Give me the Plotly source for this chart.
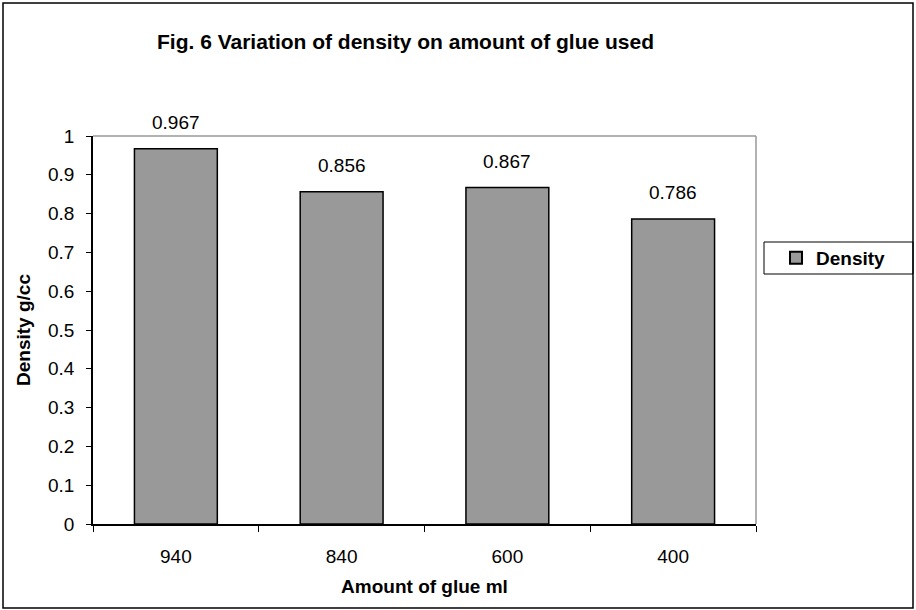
import plotly.graph_objects as go

categories = ["940", "840", "600", "400"]
density = [0.967, 0.856, 0.867, 0.786]
y_ticks = [0, 0.1, 0.2, 0.3, 0.4, 0.5, 0.6, 0.7, 0.8, 0.9, 1]
y_ticklabels = ["0", "0.1", "0.2", "0.3", "0.4", "0.5", "0.6", "0.7", "0.8", "0.9", "1"]
series_name = "Density"
title_text = "Fig. 6 Variation of density on amount of glue used"
x_title = "Amount of glue ml"
y_title = "Density g/cc"

W, H = 916, 610
L, R, T, B = 93, 756, 136, 524
pw, ph = R - L, B - T

def px(x):
    return (x - L) / pw

def py(y):
    return (B - y) / ph

FONT = "Liberation Sans, Arial, sans-serif"

fig = go.Figure()
fig.add_trace(go.Bar(
    x=categories, y=density, name=series_name,
    marker=dict(color="#999999", line=dict(color="black", width=1.5)),
    showlegend=True,
))

annotations = []
# on a category axis, annotation x is the category's serial index
for i, v in enumerate(density):
    annotations.append(dict(x=i, y=v, xref="x", yref="y", text=f"{v:.3f}",
                            showarrow=False, yanchor="bottom", yshift=14,
                            font=dict(family=FONT, size=19, color="black")))

annotations.append(dict(x=px(155), y=py(41), xref="paper", yref="paper",
                        text="<b>" + title_text + "</b>", showarrow=False,
                        xanchor="left", yanchor="middle",
                        font=dict(family=FONT, size=21, color="black")))

shapes = [
    dict(type="rect", xref="paper", yref="paper", x0=px(3), x1=px(913), y0=py(3), y1=py(608),
         line=dict(color="black", width=1.5), layer="below"),
    dict(type="line", xref="paper", yref="paper", x0=0, x1=1, y0=1, y1=1,
         line=dict(color="#999999", width=1.5)),
    dict(type="line", xref="paper", yref="paper", x0=1, x1=1, y0=0, y1=1,
         line=dict(color="#999999", width=1.5)),
    dict(type="rect", xref="paper", yref="paper", x0=px(764), x1=px(913), y0=py(242), y1=py(274),
         line=dict(color="black", width=1)),
]

fig.update_layout(
    width=W, height=H,
    margin=dict(l=L, r=W - R, t=T, b=H - B, pad=0),
    paper_bgcolor="white", plot_bgcolor="white",
    font=dict(family=FONT, size=19, color="black"),
    bargap=0.5,
    showlegend=True,
    legend=dict(x=px(776), y=py(258), xanchor="left", yanchor="middle",
                bgcolor="rgba(0,0,0,0)", borderwidth=0,
                font=dict(family=FONT, size=19, color="black", weight="bold"),
                itemsizing="constant"),
    annotations=annotations,
    shapes=shapes,
    xaxis=dict(
        type="category",
        showline=True, linecolor="black", linewidth=1.5,
        ticks="outside", tickson="boundaries", ticklen=6, tickcolor="black", tickwidth=1,
        showgrid=False, ticklabelstandoff=14,
        tickfont=dict(family=FONT, size=19),
        title=dict(text="<b>" + x_title + "</b>", font=dict(family=FONT, size=19), standoff=14),
    ),
    yaxis=dict(
        range=[0, 1], tickvals=y_ticks, ticktext=y_ticklabels,
        showline=True, linecolor="black", linewidth=1.5,
        ticks="outside", ticklen=5, tickcolor="black", tickwidth=1,
        showgrid=False, zeroline=False, ticklabelstandoff=8,
        tickfont=dict(family=FONT, size=19),
        title=dict(text="<b>" + y_title + "</b>", font=dict(family=FONT, size=19), standoff=12),
    ),
)

fig.write_html("out.html", config={"displayModeBar": False},
               post_script="document.body.style.margin='0';")
